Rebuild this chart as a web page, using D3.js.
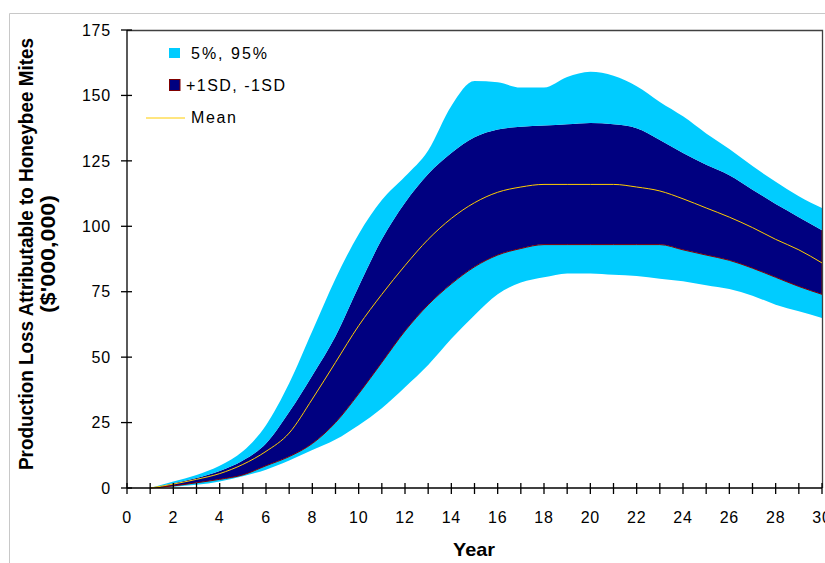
<!DOCTYPE html>
<html><head><meta charset="utf-8">
<script src="https://cdn.jsdelivr.net/npm/d3@7"></script>
<style>
html,body{margin:0;padding:0;background:#fff;}
svg{display:block;font-family:"Liberation Sans",Arial,sans-serif;}
</style></head>
<body>
<svg id="chart" width="825" height="563"></svg>
<script>
const years = [1,2,3,4,5,6,7,8,9,10,11,12,13,14,15,16,17,18,19,20,21,22,23,24,25,26,27,28,29,30];
const p95 = [0,2.5,5,8.5,14,24,40,60,80,97,110,119,129,146,155.5,155,153,153,157,159,157.5,153.5,147.5,142,135.5,129.5,123,117,111.5,107];
const sdPlus = [0,1.8,3.8,6.5,10.5,17,29,43,58,77,95,109,120,128,134,137,138,138.5,139,139.5,139,137.5,133,128,123.5,119.5,114,108.5,103.5,98.5];
const meanVals = [0,1.5,3.3,5.5,9,14,21,34,48,62,74,85,95,103,109,113,115,116,116,116,116,115,113.5,110.5,107,103.5,99.5,95,91,86];
const sdMinus = [0,0.8,2,3.3,5,8.5,12,17,25,36,48,60,70,78,84.5,89,91.5,93,93,93,93,93,93,91,89,87,84,80.5,77,74];
const p5 = [0,0.5,1.2,2.5,4.5,7,10.5,14.5,18.5,24,30.5,38.5,47,57,66,74,78.5,80.5,82,82,81.5,81,80,79,77.5,76,73.5,70,67.5,65];
const yTicks = [0,25,50,75,100,125,150,175];
const xLabels = [0,2,4,6,8,10,12,14,16,18,20,22,24,26,28,30];
const legendLabels = ["5%, 95%","+1SD, -1SD","Mean"];

const CYAN="#00CCFF", NAVY="#000080", RED="#800000", GOLD="#FFCC00";
const svg = d3.select("#chart");
const L=127, R=822, T=30, B=488;
const x = d3.scaleLinear().domain([0,30]).range([L,R]);
const y = d3.scaleLinear().domain([0,175]).range([B,T]);
const curve = d3.curveMonotoneX;

// outer chart border
svg.append("path").attr("d","M9.5,600 V13.5 H900").attr("fill","none").attr("stroke","#c8c8c8").attr("stroke-width",1);

const rows = years.map((yr,i)=>({yr, p95:p95[i], sp:sdPlus[i], m:meanVals[i], sm:sdMinus[i], p5:p5[i]}));

const g = svg.append("g");
g.append("path").datum(rows).attr("fill",CYAN)
  .attr("d", d3.area().curve(curve).x(d=>x(d.yr)).y0(d=>y(d.p5)).y1(d=>y(d.sm)));
g.append("path").datum(rows).attr("fill",NAVY)
  .attr("d", d3.area().curve(curve).x(d=>x(d.yr)).y0(d=>y(d.sm)).y1(d=>y(d.sp)));
g.append("path").datum(rows).attr("fill",CYAN)
  .attr("d", d3.area().curve(curve).x(d=>x(d.yr)).y0(d=>y(d.sp)).y1(d=>y(d.p95)));
const last = rows[rows.length-1];
g.append("path").attr("fill","none").attr("stroke",RED).attr("stroke-width",1)
  .attr("d", d3.line().curve(curve).x(d=>x(d.yr)).y(d=>y(d.sm))(rows) + "L" + x(last.yr) + "," + y(last.sp));
g.append("path").datum(rows).attr("fill","none").attr("stroke",GOLD).attr("stroke-width",1)
  .attr("d", d3.line().curve(curve).x(d=>x(d.yr)).y(d=>y(d.m)));

// plot border top/right
svg.append("path").attr("d",`M${L},${T+0.5} H${R+0.5} V${B}`).attr("fill","none").attr("stroke","#404040").attr("stroke-width",1.3);

// y axis
const yAxis = svg.append("g").attr("transform",`translate(${L},0)`);
yAxis.append("line").attr("x1",0).attr("x2",0).attr("y1",T).attr("y2",B).attr("stroke","#000").attr("stroke-width",1.3);
yTicks.forEach(t=>{
  yAxis.append("line").attr("x1",-6).attr("x2",5).attr("y1",y(t)).attr("y2",y(t)).attr("stroke","#000").attr("stroke-width",1.3);
  yAxis.append("text").attr("x",-16).attr("y",y(t)).attr("dy","0.36em").attr("text-anchor","end")
    .attr("font-size",16).attr("letter-spacing","0.8px").attr("fill","#000").text(t);
});

// x axis
const xAxis = svg.append("g").attr("transform",`translate(0,${B})`);
xAxis.append("line").attr("x1",L).attr("x2",R).attr("y1",0).attr("y2",0).attr("stroke","#000").attr("stroke-width",1.3);
d3.range(0,31).forEach(t=>{
  xAxis.append("line").attr("x1",x(t)).attr("x2",x(t)).attr("y1",-5).attr("y2",6).attr("stroke","#000").attr("stroke-width",1.3);
});
xLabels.forEach(t=>{
  xAxis.append("text").attr("x",x(t)).attr("y",35).attr("text-anchor","middle")
    .attr("font-size",16).attr("letter-spacing","0.8px").attr("fill","#000").text(t);
});

// axis titles
svg.append("text").attr("x",474).attr("y",556).attr("text-anchor","middle")
  .attr("font-size",19).attr("font-weight","bold").attr("textLength",42).attr("lengthAdjust","spacingAndGlyphs").text("Year");
svg.append("text").attr("transform","translate(33,254) rotate(-90)").attr("text-anchor","middle")
  .attr("font-size",20).attr("font-weight","bold").attr("textLength",432).attr("lengthAdjust","spacingAndGlyphs")
  .text("Production Loss Attributable to Honeybee Mites");
svg.append("text").attr("transform","translate(55,254) rotate(-90)").attr("text-anchor","middle")
  .attr("font-size",20).attr("font-weight","bold").attr("textLength",118).attr("lengthAdjust","spacingAndGlyphs")
  .text("($'000,000)");

// legend
const lg = svg.append("g");
lg.append("rect").attr("x",169).attr("y",48).attr("width",11).attr("height",10).attr("fill",CYAN);
lg.append("text").attr("x",191).attr("y",58.5).attr("font-size",16).attr("textLength",76).attr("lengthAdjust","spacing").text(legendLabels[0]);
lg.append("rect").attr("x",169.5).attr("y",79.5).attr("width",10.5).attr("height",11).attr("fill",NAVY).attr("stroke",RED).attr("stroke-width",1);
lg.append("text").attr("x",186).attr("y",91).attr("font-size",16).attr("textLength",99).attr("lengthAdjust","spacing").text(legendLabels[1]);
lg.append("line").attr("x1",146).attr("x2",185).attr("y1",118).attr("y2",118).attr("stroke",GOLD).attr("stroke-width",1);
lg.append("text").attr("x",191).attr("y",123).attr("font-size",16).attr("textLength",45).attr("lengthAdjust","spacing").text(legendLabels[2]);
</script>
</body></html>
